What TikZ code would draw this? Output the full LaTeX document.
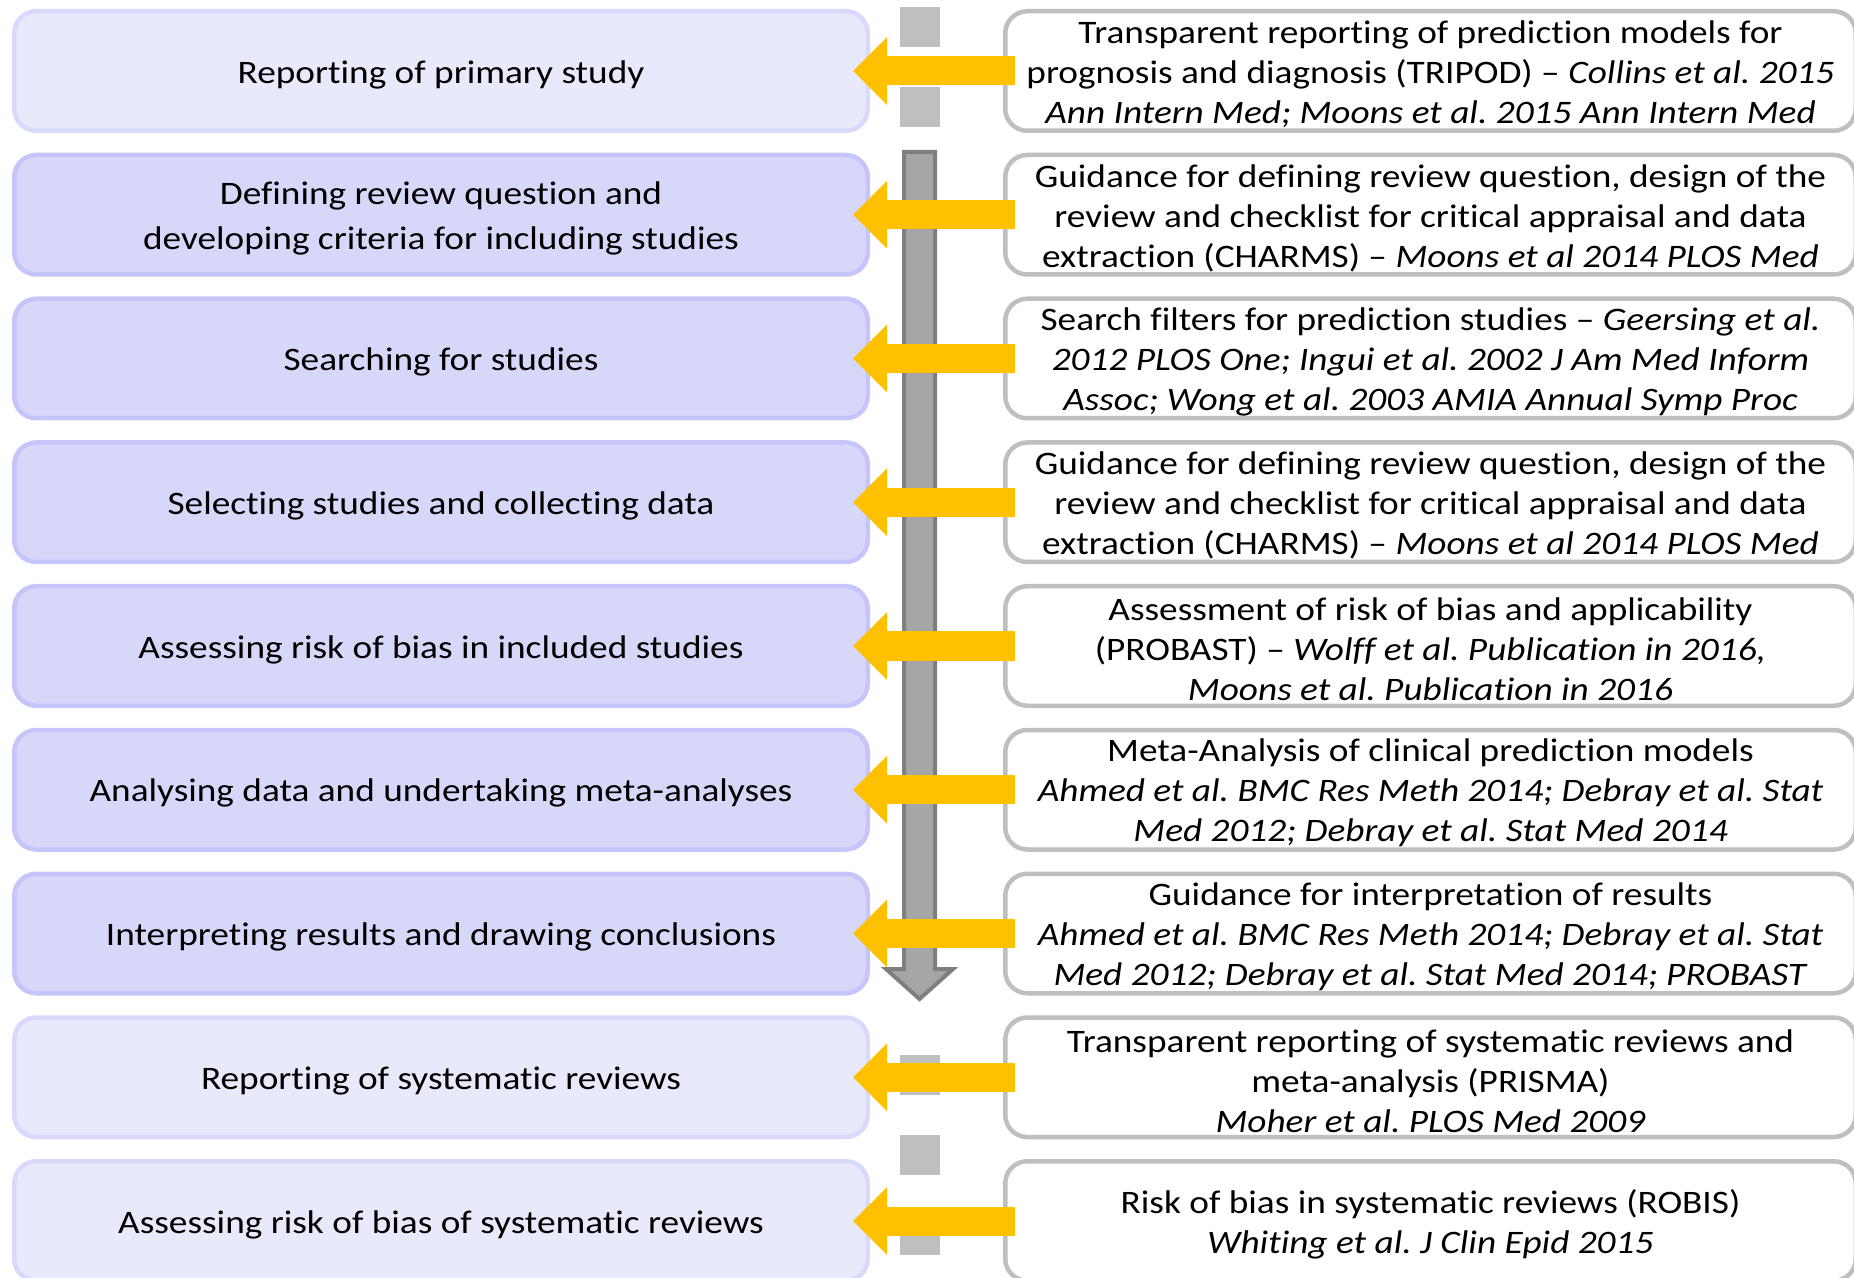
\documentclass[tikz,border=0pt]{standalone}
\usepackage{fontspec}
\setmainfont{Carlito}[Ligatures=NoCommon, FakeStretch=1.137]
\frenchspacing
\usetikzlibrary{arrows.meta,calc}

\definecolor{lightfill}{HTML}{E9E9FC}
\definecolor{lightline}{HTML}{D9D9FC}
\definecolor{darkfill}{HTML}{D7D7FA}
\definecolor{darkline}{HTML}{C5C5FA}
\definecolor{refline}{HTML}{BFBFBF}
\definecolor{pointer}{HTML}{FFC000}
\definecolor{flowfill}{HTML}{A6A6A6}
\definecolor{flowline}{HTML}{7F7F7F}
\definecolor{gapbar}{HTML}{BFBFBF}

\tikzset{
  stagebase/.style={rectangle, rounded corners=11pt, line width=2.25pt, outer sep=0pt,
    minimum width=426.75pt, minimum height=59.75pt},
  stagelight/.style={stagebase, fill=lightfill, draw=lightline},
  stagedark/.style={stagebase, fill=darkfill, draw=darkline},
  stagetext/.style={align=center, inner sep=0pt, yshift=-1.75pt,
    font=\fontsize{16.4pt}{22.5pt}\selectfont\frenchspacing},
  refbox/.style={rectangle, rounded corners=11pt, line width=2.25pt, outer sep=0pt,
    minimum width=425.25pt, minimum height=59.75pt, fill=white, draw=refline},
  reftext/.style={align=center, inner sep=0pt, yshift=-1.75pt,
    font=\fontsize{16.4pt}{20pt}\selectfont\frenchspacing},
  pointarrow/.style={draw=pointer, line width=14.5pt,
    -{Triangle[length=17pt,width=34pt,line width=0pt]}},
  gapdash/.style={draw=gapbar, line width=20pt, dash pattern=on 20pt off 20pt},
  flowarrow/.style={fill=flowfill, draw=flowline, line width=2pt, line join=miter},
}

\begin{document}
\begin{tikzpicture}[x=0.5pt,y=-0.5pt]
\useasboundingbox (0,0) rectangle (1854,1278);
\clip (0,0) rectangle (1854,1278);

% stage boxes on the left
\node[stagelight] (l1) at (441,71)      {};
\node[stagedark]  (l2) at (441,214.75)  {};
\node[stagedark]  (l3) at (441,358.5)   {};
\node[stagedark]  (l4) at (441,502.25)  {};
\node[stagedark]  (l5) at (441,646)     {};
\node[stagedark]  (l6) at (441,789.75)  {};
\node[stagedark]  (l7) at (441,933.5)   {};
\node[stagelight] (l8) at (441,1077.25) {};
\node[stagelight] (l9) at (441,1221)    {};

\node[stagetext] (l1t) at (l1.center) {Reporting of primary study};
\node[stagetext] (l2t) at (l2.center) {Defining review question and\\developing criteria for including studies};
\node[stagetext] (l3t) at (l3.center) {Searching for studies};
\node[stagetext] (l4t) at (l4.center) {Selecting studies and collecting data};
\node[stagetext] (l5t) at (l5.center) {Assessing risk of bias in included studies};
\node[stagetext] (l6t) at (l6.center) {Analysing data and undertaking meta-analyses};
\node[stagetext] (l7t) at (l7.center) {Interpreting results and drawing conclusions};
\node[stagetext] (l8t) at (l8.center) {Reporting of systematic reviews};
\node[stagetext] (l9t) at (l9.center) {Assessing risk of bias of systematic reviews};

% guidance boxes on the right
\node[refbox] (r1) at (1430.5,71)      {};
\node[refbox] (r2) at (1430.5,214.75)  {};
\node[refbox] (r3) at (1430.5,358.5)   {};
\node[refbox] (r4) at (1430.5,502.25)  {};
\node[refbox] (r5) at (1430.5,646)     {};
\node[refbox] (r6) at (1430.5,789.75)  {};
\node[refbox] (r7) at (1430.5,933.5)   {};
\node[refbox] (r8) at (1430.5,1077.25) {};
\node[refbox] (r9) at (1430.5,1221)    {};

\node[reftext] (r1t) at (r1.center) {Transparent reporting of prediction models for\\prognosis and diagnosis (TRIPOD) -- \textit{Collins et al. 2015}\\\textit{Ann Intern Med; Moons et al. 2015 Ann Intern Med}};
\node[reftext] (r2t) at (r2.center) {Guidance for defining review question, design of the\\review and checklist for critical appraisal and data\\extraction (CHARMS) -- \textit{Moons et al 2014 PLOS Med}};
\node[reftext] (r3t) at (r3.center) {Search filters for prediction studies -- \textit{Geersing et al.}\\\textit{2012 PLOS One; Ingui et al. 2002 J Am Med Inform}\\\textit{Assoc; Wong et al. 2003 AMIA Annual Symp Proc}};
\node[reftext] (r4t) at (r4.center) {Guidance for defining review question, design of the\\review and checklist for critical appraisal and data\\extraction (CHARMS) -- \textit{Moons et al 2014 PLOS Med}};
\node[reftext] (r5t) at (r5.center) {Assessment of risk of bias and applicability\\(PROBAST) -- \textit{Wolff et al. Publication in 2016,}\\\textit{Moons et al. Publication in 2016}};
\node[reftext] (r6t) at (r6.center) {Meta-Analysis of clinical prediction models\\\textit{Ahmed et al. BMC Res Meth 2014; Debray et al. Stat}\\\textit{Med 2012; Debray et al. Stat Med 2014}};
\node[reftext] (r7t) at (r7.center) {Guidance for interpretation of results\\\textit{Ahmed et al. BMC Res Meth 2014; Debray et al. Stat}\\\textit{Med 2012; Debray et al. Stat Med 2014; PROBAST}};
\node[reftext] (r8t) at (r8.center) {Transparent reporting of systematic reviews and\\meta-analysis (PRISMA)\\\textit{Moher et al. PLOS Med 2009}};
\node[reftext] (r9t) at (r9.center) {Risk of bias in systematic reviews (ROBIS)\\\textit{Whiting et al. J Clin Epid 2015}};

% dashed grey bars outside the review process
\draw[gapdash] (920,7) -- (920,127);
\draw[gapdash] (920,1055) -- (920,1300);

% grey process arrow spanning the review stages
\coordinate (flowtop) at (919.5,152);
\coordinate (flowtip) at (919.5,999);
\draw[flowarrow] ($(flowtop)+(-15.5,0)$) -- ($(flowtop)+(15.5,0)$) -- (935,969) -- (953,969)
  -- (flowtip) -- (886,969) -- (904,969) -- cycle;

% yellow pointers from guidance to stage
\foreach \i in {1,...,9}{
  \draw[pointarrow] ($(r\i.west)+(9.75,0)$) -- ($(l\i.east)+(-14.75,0)$);
}
\end{tikzpicture}
\end{document}
